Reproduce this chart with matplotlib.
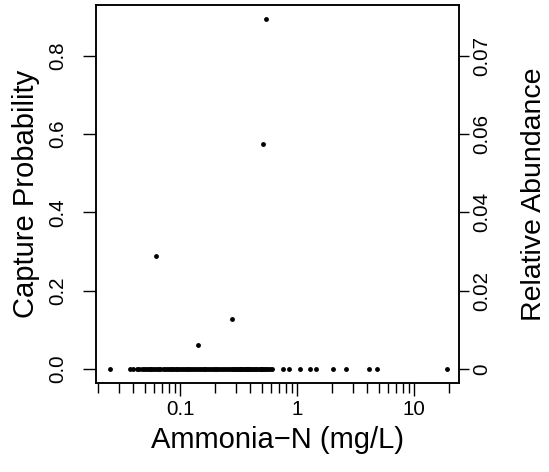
import matplotlib
matplotlib.use("Agg")
import matplotlib.pyplot as plt
from matplotlib.ticker import FixedLocator, NullFormatter

plt.rcParams['font.family'] = ['Liberation Sans', 'DejaVu Sans']

# Ammonia-N (mg/L) for sites with zero capture probability
zero_x = [0.025, 0.0374, 0.0399, 0.0426, 0.0449, 0.047, 0.049, 0.051, 0.053, 0.055,
          0.057, 0.059, 0.061, 0.064, 0.066, 0.068, 0.071, 0.074, 0.077, 0.080,
          0.083, 0.086, 0.089, 0.092, 0.095, 0.098, 0.102, 0.106, 0.110, 0.114,
          0.118, 0.122, 0.127, 0.132, 0.137, 0.142, 0.147, 0.153, 0.159, 0.165,
          0.171, 0.177, 0.184, 0.191, 0.198, 0.205, 0.213, 0.221, 0.229, 0.238,
          0.247, 0.256, 0.266, 0.276, 0.286, 0.297, 0.303, 0.31, 0.32, 0.328,
          0.335, 0.342, 0.35, 0.36, 0.368, 0.375, 0.383, 0.39, 0.40, 0.41,
          0.423, 0.44, 0.45, 0.467, 0.48, 0.49, 0.50, 0.515, 0.53, 0.545,
          0.569, 0.585, 0.607,
          0.764, 0.855, 1.06, 1.29, 1.44, 2.04, 2.61, 4.10, 4.86, 19.3]
zero_y = [0.0] * len(zero_x)

# Sites with positive capture probability
pos_x = [0.0627, 0.143, 0.280, 0.515, 0.540]
pos_y = [0.2886, 0.0613, 0.1277, 0.574, 0.893]

left_ticks = [0.0, 0.2, 0.4, 0.6, 0.8]
left_labels = ['0.0', '0.2', '0.4', '0.6', '0.8']
right_labels = ['0', '0.02', '0.04', '0.06', '0.07']
x_major = [0.1, 1, 10]
x_major_labels = ['0.1', '1', '10']
x_minor = [0.02, 0.03, 0.04, 0.05, 0.06, 0.07, 0.08, 0.09,
           0.2, 0.3, 0.4, 0.5, 0.6, 0.7, 0.8, 0.9,
           2, 3, 4, 5, 6, 7, 8, 9, 20]

W, H = 549, 472
fig = plt.figure(figsize=(W / 100, H / 100), dpi=100)
L, R, T, B = 96, 459, 5, 383
ax = fig.add_axes([L / W, 1 - B / H, (R - L) / W, (B - T) / H])

all_x = zero_x + pos_x
all_y = zero_y + pos_y
ax.plot(all_x, all_y, linestyle='none', marker='o', markersize=3.5,
        color='black', markeredgewidth=0)

ax.set_xscale('log')
ax.set_xlim(0.01914, 24.25)
ax.set_ylim(-0.0358, 0.9298)

ax.xaxis.set_major_locator(FixedLocator(x_major))
ax.set_xticklabels(x_major_labels)
ax.xaxis.set_minor_locator(FixedLocator(x_minor))
ax.xaxis.set_minor_formatter(NullFormatter())
ax.tick_params(axis='x', which='major', length=9.4, width=1.0, pad=3, labelsize=14.8)
ax.tick_params(axis='x', which='minor', length=7.2, width=1.0)

ax.set_yticks(left_ticks)
ax.set_yticklabels(left_labels, rotation=90, va='center')
ax.tick_params(axis='y', which='major', length=9.4, width=1.0, pad=11, labelsize=14.8)

for s in ax.spines.values():
    s.set_linewidth(1.1)

ax2 = ax.twinx()
ax2.set_ylim(ax.get_ylim())
ax2.set_yticks(left_ticks)
ax2.set_yticklabels(right_labels, rotation=90, va='center')
ax2.tick_params(axis='y', length=7.2, width=1.0, pad=2, labelsize=14.8)
for s in ax2.spines.values():
    s.set_linewidth(1.1)

ax.set_xlabel('Ammonia\u2212N (mg/L)', fontsize=21)
ax.xaxis.set_label_coords(0.5, (B - 448) / (B - T))
ax.xaxis.label.set_va('baseline')

ax.set_ylabel('Capture Probability', fontsize=21)
ax.yaxis.set_label_coords((34 - L) / (R - L), 0.5)
ax.yaxis.label.set_va('baseline')
ax.yaxis.label.set_rotation_mode('anchor')

ax2.set_ylabel('Relative Abundance', fontsize=20.5, rotation=90)
ax2.yaxis.set_label_coords((541 - L) / (R - L), 0.5)
ax2.yaxis.label.set_va('baseline')
ax2.yaxis.label.set_rotation_mode('anchor')

fig.savefig('out.png', dpi=100)
